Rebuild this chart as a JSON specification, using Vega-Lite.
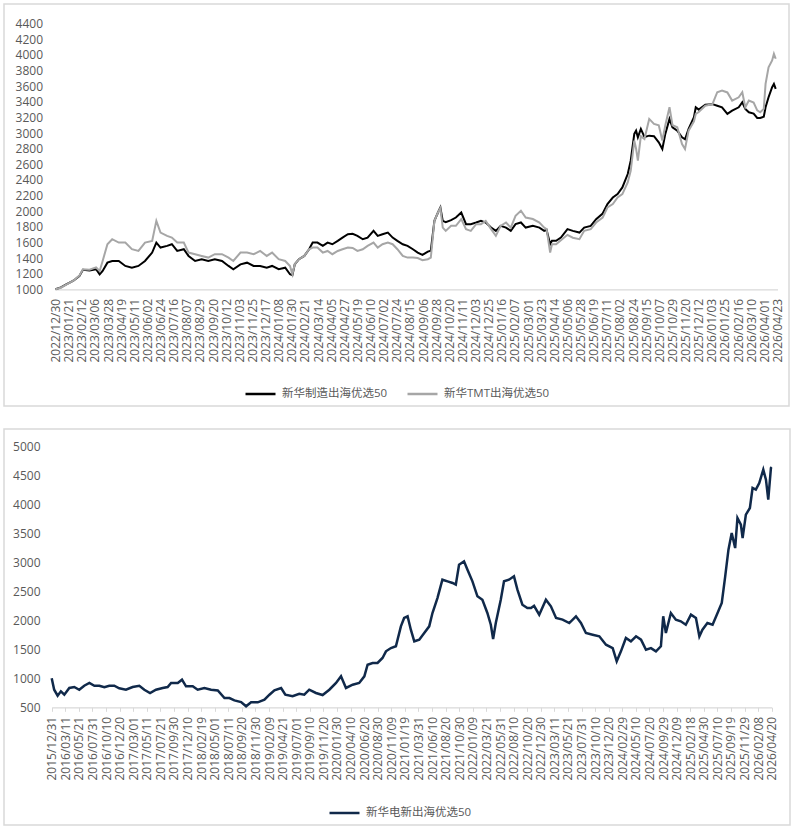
{
  "$schema": "https://vega.github.io/schema/vega-lite/v6.json",
  "padding": {"left": 3, "top": 3, "right": 0, "bottom": 0},
  "background": "white",
  "spacing": 21,
  "config": {
    "font": "Open Sans, Noto Sans CJK SC",
    "view": {"stroke": "#d9d9d9", "strokeWidth": 1.5},
    "axis": {"labelFont": "Open Sans, Noto Sans CJK SC", "labelFontSize": 12, "labelColor": "#595959", "grid": false, "title": null},
    "legend": {"labelFont": "Open Sans, Noto Sans CJK SC", "labelFontSize": 11.5, "labelColor": "#595959", "symbolType": "stroke", "symbolSize": 900, "symbolStrokeWidth": 2.5, "labelOffset": 5, "columnPadding": 14, "padding": 0, "direction": "horizontal", "orient": "none", "title": null}
  },
  "resolve": {"scale": {"color": "independent", "x": "independent", "y": "independent"}, "legend": {"color": "independent"}},
  "vconcat": [
    {
      "width": 785,
      "height": 402,
      "data": {"values": [
        {"date": "2022-12-30", "新华制造出海优选50": 1000, "新华TMT出海优选50": 1000},
        {"date": "2023-01-08", "新华制造出海优选50": 1025, "新华TMT出海优选50": 1020},
        {"date": "2023-01-17", "新华制造出海优选50": 1064, "新华TMT出海优选50": 1060},
        {"date": "2023-01-29", "新华制造出海优选50": 1110, "新华TMT出海优选50": 1110},
        {"date": "2023-02-08", "新华制造出海优选50": 1170, "新华TMT出海优选50": 1175},
        {"date": "2023-02-14", "新华制造出海优选50": 1250, "新华TMT出海优选50": 1257},
        {"date": "2023-02-25", "新华制造出海优选50": 1240, "新华TMT出海优选50": 1250},
        {"date": "2023-03-08", "新华制造出海优选50": 1257, "新华TMT出海优选50": 1280},
        {"date": "2023-03-14", "新华制造出海优选50": 1192, "新华TMT出海优选50": 1235},
        {"date": "2023-03-19", "新华制造出海优选50": 1235, "新华TMT出海优选50": 1363},
        {"date": "2023-03-27", "新华制造出海优选50": 1341, "新华TMT出海优选50": 1577},
        {"date": "2023-04-04", "新华制造出海优选50": 1363, "新华TMT出海优选50": 1641},
        {"date": "2023-04-15", "新华制造出海优选50": 1363, "新华TMT出海优选50": 1598},
        {"date": "2023-04-26", "新华制造出海优选50": 1299, "新华TMT出海优选50": 1598},
        {"date": "2023-05-07", "新华制造出海优选50": 1277, "新华TMT出海优选50": 1513},
        {"date": "2023-05-18", "新华制造出海优选50": 1299, "新华TMT出海优选50": 1491},
        {"date": "2023-05-29", "新华制造出海优选50": 1363, "新华TMT出海优选50": 1598},
        {"date": "2023-06-10", "新华制造出海优选50": 1470, "新华TMT出海优选50": 1620},
        {"date": "2023-06-17", "新华制造出海优选50": 1598, "新华TMT出海优选50": 1876},
        {"date": "2023-06-24", "新华制造出海优选50": 1534, "新华TMT出海优选50": 1726},
        {"date": "2023-07-05", "新华制造出海优选50": 1556, "新华TMT出海优选50": 1684},
        {"date": "2023-07-13", "新华制造出海优选50": 1577, "新华TMT出海优选50": 1662},
        {"date": "2023-07-22", "新华制造出海优选50": 1491, "新华TMT出海优选50": 1598},
        {"date": "2023-08-02", "新华制造出海优选50": 1513, "新华TMT出海优选50": 1598},
        {"date": "2023-08-10", "新华制造出海优选50": 1427, "新华TMT出海优选50": 1470},
        {"date": "2023-08-21", "新华制造出海优选50": 1363, "新华TMT出海优选50": 1449},
        {"date": "2023-09-01", "新华制造出海优选50": 1385, "新华TMT出海优选50": 1427},
        {"date": "2023-09-12", "新华制造出海优选50": 1363, "新华TMT出海优选50": 1406},
        {"date": "2023-09-23", "新华制造出海优选50": 1385, "新华TMT出海优选50": 1449},
        {"date": "2023-10-05", "新华制造出海优选50": 1363, "新华TMT出海优选50": 1449},
        {"date": "2023-10-16", "新华制造出海优选50": 1299, "新华TMT出海优选50": 1406},
        {"date": "2023-10-24", "新华制造出海优选50": 1257, "新华TMT出海优选50": 1363},
        {"date": "2023-11-05", "新华制造出海优选50": 1320, "新华TMT出海优选50": 1470},
        {"date": "2023-11-16", "新华制造出海优选50": 1341, "新华TMT出海优选50": 1470},
        {"date": "2023-11-27", "新华制造出海优选50": 1299, "新华TMT出海优选50": 1449},
        {"date": "2023-12-08", "新华制造出海优选50": 1299, "新华TMT出海优选50": 1491},
        {"date": "2023-12-19", "新华制造出海优选50": 1277, "新华TMT出海优选50": 1427},
        {"date": "2023-12-28", "新华制造出海优选50": 1299, "新华TMT出海优选50": 1470},
        {"date": "2024-01-08", "新华制造出海优选50": 1257, "新华TMT出海优选50": 1385},
        {"date": "2024-01-19", "新华制造出海优选50": 1277, "新华TMT出海优选50": 1363},
        {"date": "2024-01-27", "新华制造出海优选50": 1192, "新华TMT出海优选50": 1299},
        {"date": "2024-01-31", "新华制造出海优选50": 1180, "新华TMT出海优选50": 1192},
        {"date": "2024-02-04", "新华制造出海优选50": 1320, "新华TMT出海优选50": 1320},
        {"date": "2024-02-11", "新华制造出海优选50": 1385, "新华TMT出海优选50": 1385},
        {"date": "2024-02-20", "新华制造出海优选50": 1427, "新华TMT出海优选50": 1427},
        {"date": "2024-02-28", "新华制造出海优选50": 1513, "新华TMT出海优选50": 1513},
        {"date": "2024-03-05", "新华制造出海优选50": 1598, "新华TMT出海优选50": 1534},
        {"date": "2024-03-13", "新华制造出海优选50": 1598, "新华TMT出海优选50": 1534},
        {"date": "2024-03-22", "新华制造出海优选50": 1556, "新华TMT出海优选50": 1470},
        {"date": "2024-03-30", "新华制造出海优选50": 1598, "新华TMT出海优选50": 1491},
        {"date": "2024-04-07", "新华制造出海优选50": 1577, "新华TMT出海优选50": 1449},
        {"date": "2024-04-16", "新华制造出海优选50": 1620, "新华TMT出海优选50": 1491},
        {"date": "2024-04-24", "新华制造出海优选50": 1662, "新华TMT出海优选50": 1513},
        {"date": "2024-05-03", "新华制造出海优选50": 1705, "新华TMT出海优选50": 1534},
        {"date": "2024-05-11", "新华制造出海优选50": 1710, "新华TMT出海优选50": 1530},
        {"date": "2024-05-19", "新华制造出海优选50": 1684, "新华TMT出海优选50": 1491},
        {"date": "2024-05-28", "新华制造出海优选50": 1641, "新华TMT出海优选50": 1513},
        {"date": "2024-06-05", "新华制造出海优选50": 1662, "新华TMT出海优选50": 1556},
        {"date": "2024-06-15", "新华制造出海优选50": 1748, "新华TMT出海优选50": 1598},
        {"date": "2024-06-22", "新华制造出海优选50": 1684, "新华TMT出海优选50": 1534},
        {"date": "2024-06-30", "新华制造出海优选50": 1705, "新华TMT出海优选50": 1577},
        {"date": "2024-07-09", "新华制造出海优选50": 1726, "新华TMT出海优选50": 1598},
        {"date": "2024-07-17", "新华制造出海优选50": 1662, "新华TMT出海优选50": 1577},
        {"date": "2024-07-25", "新华制造出海优选50": 1620, "新华TMT出海优选50": 1513},
        {"date": "2024-08-03", "新华制造出海优选50": 1577, "新华TMT出海优选50": 1427},
        {"date": "2024-08-11", "新华制造出海优选50": 1556, "新华TMT出海优选50": 1406},
        {"date": "2024-08-20", "新华制造出海优选50": 1513, "新华TMT出海优选50": 1406},
        {"date": "2024-08-28", "新华制造出海优选50": 1470, "新华TMT出海优选50": 1400},
        {"date": "2024-09-05", "新华制造出海优选50": 1440, "新华TMT出海优选50": 1372},
        {"date": "2024-09-14", "新华制造出海优选50": 1482, "新华TMT出海优选50": 1385},
        {"date": "2024-09-19", "新华制造出海优选50": 1495, "新华TMT出海优选50": 1406},
        {"date": "2024-09-25", "新华制造出海优选50": 1876, "新华TMT出海优选50": 1876},
        {"date": "2024-10-01", "新华制造出海优选50": 1983, "新华TMT出海优选50": 1983},
        {"date": "2024-10-05", "新华制造出海优选50": 2047, "新华TMT出海优选50": 2040},
        {"date": "2024-10-09", "新华制造出海优选50": 1876, "新华TMT出海优选50": 1790},
        {"date": "2024-10-14", "新华制造出海优选50": 1860, "新华TMT出海优选50": 1748},
        {"date": "2024-10-23", "新华制造出海优选50": 1885, "新华TMT出海优选50": 1812},
        {"date": "2024-10-31", "新华制造出海优选50": 1919, "新华TMT出海优选50": 1812},
        {"date": "2024-11-09", "新华制造出海优选50": 1983, "新华TMT出海优选50": 1898},
        {"date": "2024-11-17", "新华制造出海优选50": 1834, "新华TMT出海优选50": 1770},
        {"date": "2024-11-25", "新华制造出海优选50": 1834, "新华TMT出海优选50": 1748},
        {"date": "2024-12-04", "新华制造出海优选50": 1855, "新华TMT出海优选50": 1834},
        {"date": "2024-12-12", "新华制造出海优选50": 1876, "新华TMT出海优选50": 1834},
        {"date": "2024-12-20", "新华制造出海优选50": 1855, "新华TMT出海优选50": 1876},
        {"date": "2024-12-29", "新华制造出海优选50": 1790, "新华TMT出海优选50": 1770},
        {"date": "2025-01-06", "新华制造出海优选50": 1748, "新华TMT出海优选50": 1684},
        {"date": "2025-01-14", "新华制造出海优选50": 1812, "新华TMT出海优选50": 1812},
        {"date": "2025-01-23", "新华制造出海优选50": 1790, "新华TMT出海优选50": 1855},
        {"date": "2025-01-31", "新华制造出海优选50": 1748, "新华TMT出海优选50": 1790},
        {"date": "2025-02-08", "新华制造出海优选50": 1834, "新华TMT出海优选50": 1940},
        {"date": "2025-02-17", "新华制造出海优选50": 1855, "新华TMT出海优选50": 2005},
        {"date": "2025-02-25", "新华制造出海优选50": 1790, "新华TMT出海优选50": 1919},
        {"date": "2025-03-09", "新华制造出海优选50": 1812, "新华TMT出海优选50": 1900},
        {"date": "2025-03-20", "新华制造出海优选50": 1790, "新华TMT出海优选50": 1855},
        {"date": "2025-03-28", "新华制造出海优选50": 1748, "新华TMT出海优选50": 1790},
        {"date": "2025-04-01", "新华制造出海优选50": 1760, "新华TMT出海优选50": 1770},
        {"date": "2025-04-07", "新华制造出海优选50": 1577, "新华TMT出海优选50": 1470},
        {"date": "2025-04-10", "新华制造出海优选50": 1620, "新华TMT出海优选50": 1577},
        {"date": "2025-04-17", "新华制造出海优选50": 1620, "新华TMT出海优选50": 1577},
        {"date": "2025-04-25", "新华制造出海优选50": 1662, "新华TMT出海优选50": 1628},
        {"date": "2025-05-06", "新华制造出海优选50": 1770, "新华TMT出海优选50": 1697},
        {"date": "2025-05-15", "新华制造出海优选50": 1748, "新华TMT出海优选50": 1660},
        {"date": "2025-05-26", "新华制造出海优选50": 1726, "新华TMT出海优选50": 1641},
        {"date": "2025-06-03", "新华制造出海优选50": 1790, "新华TMT出海优选50": 1748},
        {"date": "2025-06-14", "新华制造出海优选50": 1812, "新华TMT出海优选50": 1770},
        {"date": "2025-06-23", "新华制造出海优选50": 1898, "新华TMT出海优选50": 1855},
        {"date": "2025-07-04", "新华制造出海优选50": 1970, "新华TMT出海优选50": 1919},
        {"date": "2025-07-12", "新华制造出海优选50": 2091, "新华TMT出海优选50": 2047},
        {"date": "2025-07-21", "新华制造出海优选50": 2175, "新华TMT出海优选50": 2091},
        {"date": "2025-07-29", "新华制造出海优选50": 2219, "新华TMT出海优选50": 2175},
        {"date": "2025-08-06", "新华制造出海优选50": 2304, "新华TMT出海优选50": 2219},
        {"date": "2025-08-15", "新华制造出海优选50": 2475, "新华TMT出海优选50": 2368},
        {"date": "2025-08-20", "新华制造出海优选50": 2646, "新华TMT出海优选50": 2518},
        {"date": "2025-08-26", "新华制造出海优选50": 2989, "新华TMT出海优选50": 2903},
        {"date": "2025-08-29", "新华制造出海优选50": 3031, "新华TMT出海优选50": 2800},
        {"date": "2025-09-01", "新华制造出海优选50": 2945, "新华TMT出海优选50": 2646},
        {"date": "2025-09-06", "新华制造出海优选50": 3053, "新华TMT出海优选50": 2960},
        {"date": "2025-09-12", "新华制造出海优选50": 2950, "新华TMT出海优选50": 2925},
        {"date": "2025-09-20", "新华制造出海优选50": 2967, "新华TMT出海优选50": 3181},
        {"date": "2025-09-28", "新华制造出海优选50": 2960, "新华TMT出海优选50": 3117},
        {"date": "2025-10-06", "新华制造出海优选50": 2881, "新华TMT出海优选50": 3100},
        {"date": "2025-10-12", "新华制造出海优选50": 2796, "新华TMT出海优选50": 2903},
        {"date": "2025-10-17", "新华制造出海优选50": 2989, "新华TMT出海优选50": 3100},
        {"date": "2025-10-24", "新华制造出海优选50": 3181, "新华TMT出海优选50": 3330},
        {"date": "2025-10-29", "新华制造出海优选50": 3074, "新华TMT出海优选50": 3100},
        {"date": "2025-11-06", "新华制造出海优选50": 3031, "新华TMT出海优选50": 3074},
        {"date": "2025-11-14", "新华制造出海优选50": 2945, "新华TMT出海优选50": 2860},
        {"date": "2025-11-19", "新华制造出海优选50": 2920, "新华TMT出海优选50": 2796},
        {"date": "2025-11-25", "新华制造出海优选50": 3053, "新华TMT出海优选50": 3031},
        {"date": "2025-12-04", "新华制造出海优选50": 3202, "新华TMT出海优选50": 3150},
        {"date": "2025-12-07", "新华制造出海优选50": 3330, "新华TMT出海优选50": 3245},
        {"date": "2025-12-12", "新华制造出海优选50": 3300, "新华TMT出海优选50": 3270},
        {"date": "2025-12-23", "新华制造出海优选50": 3364, "新华TMT出海优选50": 3350},
        {"date": "2026-01-04", "新华制造出海优选50": 3370, "新华TMT出海优选50": 3370},
        {"date": "2026-01-12", "新华制造出海优选50": 3350, "新华TMT出海优选50": 3523},
        {"date": "2026-01-20", "新华制造出海优选50": 3330, "新华TMT出海优选50": 3544},
        {"date": "2026-01-29", "新华制造出海优选50": 3245, "新华TMT出海优选50": 3520},
        {"date": "2026-02-06", "新华制造出海优选50": 3287, "新华TMT出海优选50": 3416},
        {"date": "2026-02-17", "新华制造出海优选50": 3330, "新华TMT出海优选50": 3458},
        {"date": "2026-02-23", "新华制造出海优选50": 3394, "新华TMT出海优选50": 3523},
        {"date": "2026-02-28", "新华制造出海优选50": 3310, "新华TMT出海优选50": 3330},
        {"date": "2026-03-06", "新华制造出海优选50": 3266, "新华TMT出海优选50": 3416},
        {"date": "2026-03-14", "新华制造出海优选50": 3250, "新华TMT出海优选50": 3390},
        {"date": "2026-03-20", "新华制造出海优选50": 3194, "新华TMT出海优选50": 3290},
        {"date": "2026-03-25", "新华制造出海优选50": 3194, "新华TMT出海优选50": 3266},
        {"date": "2026-03-31", "新华制造出海优选50": 3210, "新华TMT出海优选50": 3310},
        {"date": "2026-04-03", "新华制造出海优选50": 3330, "新华TMT出海优选50": 3630},
        {"date": "2026-04-08", "新华制造出海优选50": 3458, "新华TMT出海优选50": 3843},
        {"date": "2026-04-14", "新华制造出海优选50": 3587, "新华TMT出海优选50": 3929},
        {"date": "2026-04-17", "新华制造出海优选50": 3630, "新华TMT出海优选50": 4015},
        {"date": "2026-04-20", "新华制造出海优选50": 3566, "新华TMT出海优选50": 3951}
      ]},
      "transform": [{"fold": ["新华制造出海优选50", "新华TMT出海优选50"], "as": ["series", "value"]}],
      "mark": {"type": "line", "strokeWidth": 2, "interpolate": "linear"},
      "encoding": {
        "x": {
          "field": "date", "type": "temporal",
          "scale": {"type": "utc", "domain": [{"year": 2022, "month": 12, "date": 30, "utc": true}, {"year": 2026, "month": 4, "date": 23, "utc": true}], "range": [51.5, 773.5]},
          "axis": {
            "orient": "bottom", "offset": -116.7, "labelAngle": 270, "labelOverlap": false, "labelFlush": false,
            "labelExpr": "utcFormat(datum.value, '%Y/%m/%d')", "labelPadding": 9, "ticks": true, "tickSize": 0,
            "domainColor": "#d9d9d9", "domainWidth": 1.2,
            "values": [
              {"year": 2022, "month": 12, "date": 30, "utc": true},
              {"year": 2023, "month": 1, "date": 21, "utc": true},
              {"year": 2023, "month": 2, "date": 12, "utc": true},
              {"year": 2023, "month": 3, "date": 6, "utc": true},
              {"year": 2023, "month": 3, "date": 28, "utc": true},
              {"year": 2023, "month": 4, "date": 19, "utc": true},
              {"year": 2023, "month": 5, "date": 11, "utc": true},
              {"year": 2023, "month": 6, "date": 2, "utc": true},
              {"year": 2023, "month": 6, "date": 24, "utc": true},
              {"year": 2023, "month": 7, "date": 16, "utc": true},
              {"year": 2023, "month": 8, "date": 7, "utc": true},
              {"year": 2023, "month": 8, "date": 29, "utc": true},
              {"year": 2023, "month": 9, "date": 20, "utc": true},
              {"year": 2023, "month": 10, "date": 12, "utc": true},
              {"year": 2023, "month": 11, "date": 3, "utc": true},
              {"year": 2023, "month": 11, "date": 25, "utc": true},
              {"year": 2023, "month": 12, "date": 17, "utc": true},
              {"year": 2024, "month": 1, "date": 8, "utc": true},
              {"year": 2024, "month": 1, "date": 30, "utc": true},
              {"year": 2024, "month": 2, "date": 21, "utc": true},
              {"year": 2024, "month": 3, "date": 14, "utc": true},
              {"year": 2024, "month": 4, "date": 5, "utc": true},
              {"year": 2024, "month": 4, "date": 27, "utc": true},
              {"year": 2024, "month": 5, "date": 19, "utc": true},
              {"year": 2024, "month": 6, "date": 10, "utc": true},
              {"year": 2024, "month": 7, "date": 2, "utc": true},
              {"year": 2024, "month": 7, "date": 24, "utc": true},
              {"year": 2024, "month": 8, "date": 15, "utc": true},
              {"year": 2024, "month": 9, "date": 6, "utc": true},
              {"year": 2024, "month": 9, "date": 28, "utc": true},
              {"year": 2024, "month": 10, "date": 20, "utc": true},
              {"year": 2024, "month": 11, "date": 11, "utc": true},
              {"year": 2024, "month": 12, "date": 3, "utc": true},
              {"year": 2024, "month": 12, "date": 25, "utc": true},
              {"year": 2025, "month": 1, "date": 16, "utc": true},
              {"year": 2025, "month": 2, "date": 7, "utc": true},
              {"year": 2025, "month": 3, "date": 1, "utc": true},
              {"year": 2025, "month": 3, "date": 23, "utc": true},
              {"year": 2025, "month": 4, "date": 14, "utc": true},
              {"year": 2025, "month": 5, "date": 6, "utc": true},
              {"year": 2025, "month": 5, "date": 28, "utc": true},
              {"year": 2025, "month": 6, "date": 19, "utc": true},
              {"year": 2025, "month": 7, "date": 11, "utc": true},
              {"year": 2025, "month": 8, "date": 2, "utc": true},
              {"year": 2025, "month": 8, "date": 24, "utc": true},
              {"year": 2025, "month": 9, "date": 15, "utc": true},
              {"year": 2025, "month": 10, "date": 7, "utc": true},
              {"year": 2025, "month": 10, "date": 29, "utc": true},
              {"year": 2025, "month": 11, "date": 20, "utc": true},
              {"year": 2025, "month": 12, "date": 12, "utc": true},
              {"year": 2026, "month": 1, "date": 3, "utc": true},
              {"year": 2026, "month": 1, "date": 25, "utc": true},
              {"year": 2026, "month": 2, "date": 16, "utc": true},
              {"year": 2026, "month": 3, "date": 10, "utc": true},
              {"year": 2026, "month": 4, "date": 1, "utc": true},
              {"year": 2026, "month": 4, "date": 23, "utc": true}
            ]
          }
        },
        "y": {
          "field": "value", "type": "quantitative",
          "scale": {"domain": [1000, 4400], "range": [285.3, 19.7], "nice": false, "zero": false},
          "axis": {"orient": "left", "offset": -41, "domain": false, "ticks": true, "tickSize": 0, "labelPadding": 2.5, "format": "d",
                   "values": [1000, 1200, 1400, 1600, 1800, 2000, 2200, 2400, 2600, 2800, 3000, 3200, 3400, 3600, 3800, 4000, 4200, 4400]}
        },
        "color": {
          "field": "series", "type": "nominal",
          "scale": {"domain": ["新华制造出海优选50", "新华TMT出海优选50"], "range": ["#000000", "#a6a6a6"]},
          "legend": {"legendX": 240, "legendY": 373.5}
        }
      }
    },
    {
      "width": 786,
      "height": 396,
      "data": {"values": [
        {"date": "2015-12-31", "v": 1000},
        {"date": "2016-01-13", "v": 803},
        {"date": "2016-01-31", "v": 700},
        {"date": "2016-02-17", "v": 776},
        {"date": "2016-03-06", "v": 717},
        {"date": "2016-04-01", "v": 833},
        {"date": "2016-04-27", "v": 850},
        {"date": "2016-05-23", "v": 803},
        {"date": "2016-06-18", "v": 872},
        {"date": "2016-07-15", "v": 919},
        {"date": "2016-08-10", "v": 872},
        {"date": "2016-09-05", "v": 872},
        {"date": "2016-10-01", "v": 845},
        {"date": "2016-10-27", "v": 872},
        {"date": "2016-11-22", "v": 872},
        {"date": "2016-12-18", "v": 828},
        {"date": "2017-01-22", "v": 803},
        {"date": "2017-02-26", "v": 850},
        {"date": "2017-04-02", "v": 872},
        {"date": "2017-04-28", "v": 803},
        {"date": "2017-05-28", "v": 747},
        {"date": "2017-06-28", "v": 803},
        {"date": "2017-08-02", "v": 833},
        {"date": "2017-08-28", "v": 850},
        {"date": "2017-09-15", "v": 919},
        {"date": "2017-10-20", "v": 919},
        {"date": "2017-11-11", "v": 976},
        {"date": "2017-12-02", "v": 862},
        {"date": "2018-01-06", "v": 862},
        {"date": "2018-02-01", "v": 803},
        {"date": "2018-03-08", "v": 833},
        {"date": "2018-04-12", "v": 803},
        {"date": "2018-05-17", "v": 790},
        {"date": "2018-06-21", "v": 660},
        {"date": "2018-07-17", "v": 660},
        {"date": "2018-08-12", "v": 620},
        {"date": "2018-09-16", "v": 591},
        {"date": "2018-10-12", "v": 517},
        {"date": "2018-11-07", "v": 586},
        {"date": "2018-12-12", "v": 586},
        {"date": "2019-01-16", "v": 631},
        {"date": "2019-02-11", "v": 717},
        {"date": "2019-03-09", "v": 793},
        {"date": "2019-04-13", "v": 833},
        {"date": "2019-05-05", "v": 717},
        {"date": "2019-06-12", "v": 690},
        {"date": "2019-07-17", "v": 734},
        {"date": "2019-08-12", "v": 717},
        {"date": "2019-09-07", "v": 803},
        {"date": "2019-10-12", "v": 747},
        {"date": "2019-11-16", "v": 712},
        {"date": "2019-12-21", "v": 803},
        {"date": "2020-01-25", "v": 919},
        {"date": "2020-02-20", "v": 1034},
        {"date": "2020-03-17", "v": 833},
        {"date": "2020-04-21", "v": 890},
        {"date": "2020-05-25", "v": 919},
        {"date": "2020-06-21", "v": 1034},
        {"date": "2020-07-08", "v": 1234},
        {"date": "2020-08-03", "v": 1264},
        {"date": "2020-08-29", "v": 1264},
        {"date": "2020-09-24", "v": 1350},
        {"date": "2020-10-12", "v": 1465},
        {"date": "2020-11-07", "v": 1522},
        {"date": "2020-12-03", "v": 1552},
        {"date": "2020-12-29", "v": 1896},
        {"date": "2021-01-15", "v": 2040},
        {"date": "2021-02-02", "v": 2069},
        {"date": "2021-02-19", "v": 1838},
        {"date": "2021-03-09", "v": 1638},
        {"date": "2021-04-04", "v": 1666},
        {"date": "2021-04-30", "v": 1781},
        {"date": "2021-05-26", "v": 1896},
        {"date": "2021-06-12", "v": 2126},
        {"date": "2021-07-08", "v": 2384},
        {"date": "2021-08-03", "v": 2700},
        {"date": "2021-08-30", "v": 2672},
        {"date": "2021-09-25", "v": 2643},
        {"date": "2021-10-12", "v": 2614},
        {"date": "2021-10-29", "v": 2958},
        {"date": "2021-11-24", "v": 3017},
        {"date": "2021-12-12", "v": 2872},
        {"date": "2022-01-07", "v": 2672},
        {"date": "2022-02-02", "v": 2414},
        {"date": "2022-02-28", "v": 2355},
        {"date": "2022-03-26", "v": 2126},
        {"date": "2022-04-13", "v": 1924},
        {"date": "2022-04-25", "v": 1677},
        {"date": "2022-05-09", "v": 1953},
        {"date": "2022-06-04", "v": 2355},
        {"date": "2022-06-21", "v": 2672},
        {"date": "2022-07-17", "v": 2700},
        {"date": "2022-08-12", "v": 2758},
        {"date": "2022-08-30", "v": 2528},
        {"date": "2022-09-25", "v": 2269},
        {"date": "2022-10-21", "v": 2212},
        {"date": "2022-11-09", "v": 2212},
        {"date": "2022-11-25", "v": 2250},
        {"date": "2022-12-22", "v": 2097},
        {"date": "2023-01-26", "v": 2355},
        {"date": "2023-02-21", "v": 2241},
        {"date": "2023-03-20", "v": 2040},
        {"date": "2023-04-23", "v": 2011},
        {"date": "2023-05-28", "v": 1953},
        {"date": "2023-07-02", "v": 2069},
        {"date": "2023-07-28", "v": 1953},
        {"date": "2023-08-23", "v": 1781},
        {"date": "2023-09-27", "v": 1752},
        {"date": "2023-11-01", "v": 1724},
        {"date": "2023-12-06", "v": 1580},
        {"date": "2024-01-10", "v": 1522},
        {"date": "2024-01-31", "v": 1293},
        {"date": "2024-02-22", "v": 1465},
        {"date": "2024-03-19", "v": 1695},
        {"date": "2024-04-14", "v": 1638},
        {"date": "2024-05-11", "v": 1724},
        {"date": "2024-06-06", "v": 1666},
        {"date": "2024-07-02", "v": 1493},
        {"date": "2024-07-28", "v": 1520},
        {"date": "2024-08-23", "v": 1465},
        {"date": "2024-09-18", "v": 1552},
        {"date": "2024-09-30", "v": 2069},
        {"date": "2024-10-14", "v": 1781},
        {"date": "2024-11-09", "v": 2126},
        {"date": "2024-12-05", "v": 2011},
        {"date": "2024-12-31", "v": 1983},
        {"date": "2025-01-26", "v": 1924},
        {"date": "2025-02-22", "v": 2097},
        {"date": "2025-03-20", "v": 2040},
        {"date": "2025-04-07", "v": 1724},
        {"date": "2025-04-23", "v": 1838},
        {"date": "2025-05-19", "v": 1953},
        {"date": "2025-06-15", "v": 1924},
        {"date": "2025-07-11", "v": 2126},
        {"date": "2025-08-02", "v": 2298},
        {"date": "2025-08-20", "v": 2758},
        {"date": "2025-09-06", "v": 3217},
        {"date": "2025-09-23", "v": 3505},
        {"date": "2025-10-11", "v": 3246},
        {"date": "2025-10-23", "v": 3763},
        {"date": "2025-11-10", "v": 3648},
        {"date": "2025-11-19", "v": 3419},
        {"date": "2025-12-06", "v": 3821},
        {"date": "2025-12-27", "v": 3936},
        {"date": "2026-01-10", "v": 4281},
        {"date": "2026-01-27", "v": 4252},
        {"date": "2026-02-14", "v": 4367},
        {"date": "2026-03-07", "v": 4597},
        {"date": "2026-03-21", "v": 4424},
        {"date": "2026-04-02", "v": 4079},
        {"date": "2026-04-16", "v": 4626},
        {"date": "2026-04-20", "v": 4640}
      ]},
      "mark": {"type": "line", "strokeWidth": 2.5},
      "encoding": {
        "x": {
          "field": "date", "type": "temporal",
          "scale": {"type": "utc", "domain": [{"year": 2015, "month": 12, "date": 31, "utc": true}, {"year": 2026, "month": 4, "date": 20, "utc": true}], "range": [47.7, 767.7]},
          "axis": {
            "orient": "bottom", "offset": -117.7, "labelAngle": 270, "labelOverlap": false, "labelFlush": false,
            "labelExpr": "utcFormat(datum.value, '%Y/%m/%d')", "labelPadding": 5, "ticks": true, "tickSize": 4, "tickColor": "#d9d9d9",
            "domainColor": "#d9d9d9", "domainWidth": 1.2,
            "values": [
              {"year": 2015, "month": 12, "date": 31, "utc": true},
              {"year": 2016, "month": 3, "date": 11, "utc": true},
              {"year": 2016, "month": 5, "date": 21, "utc": true},
              {"year": 2016, "month": 7, "date": 31, "utc": true},
              {"year": 2016, "month": 10, "date": 10, "utc": true},
              {"year": 2016, "month": 12, "date": 20, "utc": true},
              {"year": 2017, "month": 3, "date": 1, "utc": true},
              {"year": 2017, "month": 5, "date": 11, "utc": true},
              {"year": 2017, "month": 7, "date": 21, "utc": true},
              {"year": 2017, "month": 9, "date": 30, "utc": true},
              {"year": 2017, "month": 12, "date": 10, "utc": true},
              {"year": 2018, "month": 2, "date": 19, "utc": true},
              {"year": 2018, "month": 5, "date": 1, "utc": true},
              {"year": 2018, "month": 7, "date": 11, "utc": true},
              {"year": 2018, "month": 9, "date": 20, "utc": true},
              {"year": 2018, "month": 11, "date": 30, "utc": true},
              {"year": 2019, "month": 2, "date": 9, "utc": true},
              {"year": 2019, "month": 4, "date": 21, "utc": true},
              {"year": 2019, "month": 7, "date": 1, "utc": true},
              {"year": 2019, "month": 9, "date": 10, "utc": true},
              {"year": 2019, "month": 11, "date": 20, "utc": true},
              {"year": 2020, "month": 1, "date": 30, "utc": true},
              {"year": 2020, "month": 4, "date": 10, "utc": true},
              {"year": 2020, "month": 6, "date": 20, "utc": true},
              {"year": 2020, "month": 8, "date": 30, "utc": true},
              {"year": 2020, "month": 11, "date": 9, "utc": true},
              {"year": 2021, "month": 1, "date": 19, "utc": true},
              {"year": 2021, "month": 3, "date": 31, "utc": true},
              {"year": 2021, "month": 6, "date": 10, "utc": true},
              {"year": 2021, "month": 8, "date": 20, "utc": true},
              {"year": 2021, "month": 10, "date": 30, "utc": true},
              {"year": 2022, "month": 1, "date": 9, "utc": true},
              {"year": 2022, "month": 3, "date": 21, "utc": true},
              {"year": 2022, "month": 5, "date": 31, "utc": true},
              {"year": 2022, "month": 8, "date": 10, "utc": true},
              {"year": 2022, "month": 10, "date": 20, "utc": true},
              {"year": 2022, "month": 12, "date": 30, "utc": true},
              {"year": 2023, "month": 3, "date": 11, "utc": true},
              {"year": 2023, "month": 5, "date": 21, "utc": true},
              {"year": 2023, "month": 7, "date": 31, "utc": true},
              {"year": 2023, "month": 10, "date": 10, "utc": true},
              {"year": 2023, "month": 12, "date": 20, "utc": true},
              {"year": 2024, "month": 2, "date": 29, "utc": true},
              {"year": 2024, "month": 5, "date": 10, "utc": true},
              {"year": 2024, "month": 7, "date": 20, "utc": true},
              {"year": 2024, "month": 9, "date": 29, "utc": true},
              {"year": 2024, "month": 12, "date": 9, "utc": true},
              {"year": 2025, "month": 2, "date": 18, "utc": true},
              {"year": 2025, "month": 4, "date": 30, "utc": true},
              {"year": 2025, "month": 7, "date": 10, "utc": true},
              {"year": 2025, "month": 9, "date": 19, "utc": true},
              {"year": 2025, "month": 11, "date": 29, "utc": true},
              {"year": 2026, "month": 2, "date": 8, "utc": true},
              {"year": 2026, "month": 4, "date": 20, "utc": true}
            ]
          }
        },
        "y": {
          "field": "v", "type": "quantitative",
          "scale": {"domain": [500, 5000], "range": [278.3, 17.3], "nice": false, "zero": false},
          "axis": {"orient": "left", "offset": -38, "domain": false, "ticks": true, "tickSize": 0, "labelPadding": 2, "format": "d",
                   "values": [500, 1000, 1500, 2000, 2500, 3000, 3500, 4000, 4500, 5000]}
        },
        "color": {
          "datum": "新华电新出海优选50",
          "scale": {"range": ["#10294a"]},
          "legend": {"legendX": 324, "legendY": 367.5}
        }
      }
    }
  ]
}
